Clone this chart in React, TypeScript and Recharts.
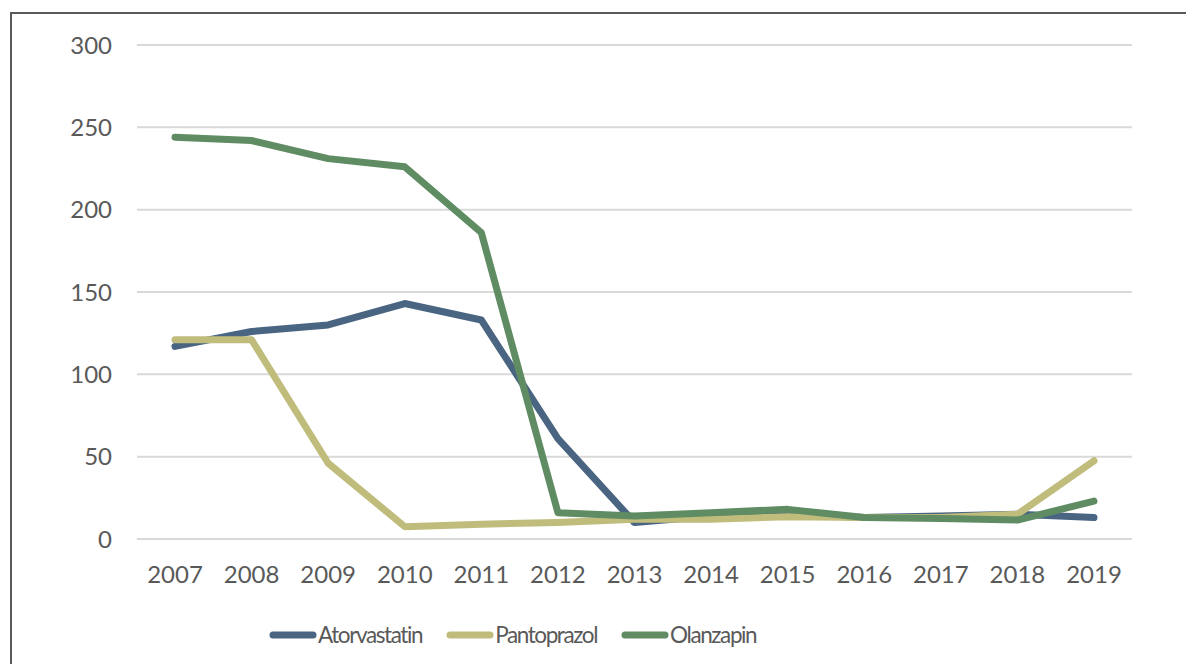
import React from "react"
import { LineChart, Line, XAxis, YAxis, CartesianGrid, Legend } from "recharts"

const years = ["2007", "2008", "2009", "2010", "2011", "2012", "2013", "2014", "2015", "2016", "2017", "2018", "2019"]
const atorvastatin = [117, 126, 130, 143, 133, 61, 10, 14, 15, 13, 14, 15, 13]
const pantoprazol = [121, 121, 46, 7.5, 9, 10, 12, 12, 13.5, 13, 13, 15, 47.5]
const olanzapin = [244, 242, 231, 226, 186, 16, 14, 16, 18, 13, 12.5, 11.5, 23]
const yTicks = [0, 50, 100, 150, 200, 250, 300]

const series = [
  { key: "Atorvastatin", color: "#4a6582" },
  { key: "Pantoprazol", color: "#bfbc7c" },
  { key: "Olanzapin", color: "#5f8c63" },
]

const data = years.map((year, i) => ({
  year,
  Atorvastatin: atorvastatin[i],
  Pantoprazol: pantoprazol[i],
  Olanzapin: olanzapin[i],
}))

const font = "Lato, 'Open Sans', sans-serif"
const textColor = "#595959"

function renderLegend() {
  return (
    <div
      style={{
        display: "flex",
        alignItems: "center",
        fontFamily: font,
        fontSize: 22.5,
        letterSpacing: -1.4,
        color: textColor,
      }}
    >
      {series.map((s, i) => (
        <div key={s.key} style={{ display: "flex", alignItems: "center", marginRight: i < 2 ? 24 : 0 }}>
          <svg width={48} height={10} style={{ marginRight: 1 }}>
            <line x1={4} y1={5} x2={44} y2={5} stroke={s.color} strokeWidth={7} strokeLinecap="round" />
          </svg>
          <span>{s.key}</span>
        </div>
      ))}
    </div>
  )
}

export default function App() {
  return (
    <div style={{ position: "fixed", left: 0, top: 0, width: 1186, height: 664, background: "#fff", overflow: "hidden" }}>
      <div
        style={{
          position: "absolute",
          left: 10,
          top: 12,
          width: 1240,
          height: 720,
          border: "2px solid #5a5a5a",
          boxSizing: "border-box",
        }}
      />
      <div style={{ position: "absolute", left: 0, top: 0 }}>
        <LineChart width={1186} height={664} data={data} margin={{ top: 45, right: 54, bottom: 68, left: 0 }}>
          <CartesianGrid vertical={false} stroke="#d9d9d9" strokeWidth={2} />
          <XAxis
            dataKey="year"
            axisLine={false}
            tickLine={false}
            tickSize={0}
            tickMargin={27}
            padding={{ left: 38, right: 38 }}
            tick={{ fill: textColor, fontSize: 24, fontFamily: font }}
            interval={0}
          />
          <YAxis
            width={137}
            domain={[0, 300]}
            ticks={yTicks}
            axisLine={false}
            tickLine={false}
            tickSize={0}
            tickMargin={25}
            tick={{ fill: textColor, fontSize: 24, fontFamily: font }}
          />
          <Legend content={renderLegend} wrapperStyle={{ position: "absolute", left: 269, top: 621, width: "auto" }} />
          {series.map((s) => (
            <Line
              key={s.key}
              type="linear"
              dataKey={s.key}
              stroke={s.color}
              strokeWidth={7}
              strokeLinejoin="round"
              strokeLinecap="round"
              dot={false}
              activeDot={false}
              isAnimationActive={false}
            />
          ))}
        </LineChart>
      </div>
    </div>
  )
}
